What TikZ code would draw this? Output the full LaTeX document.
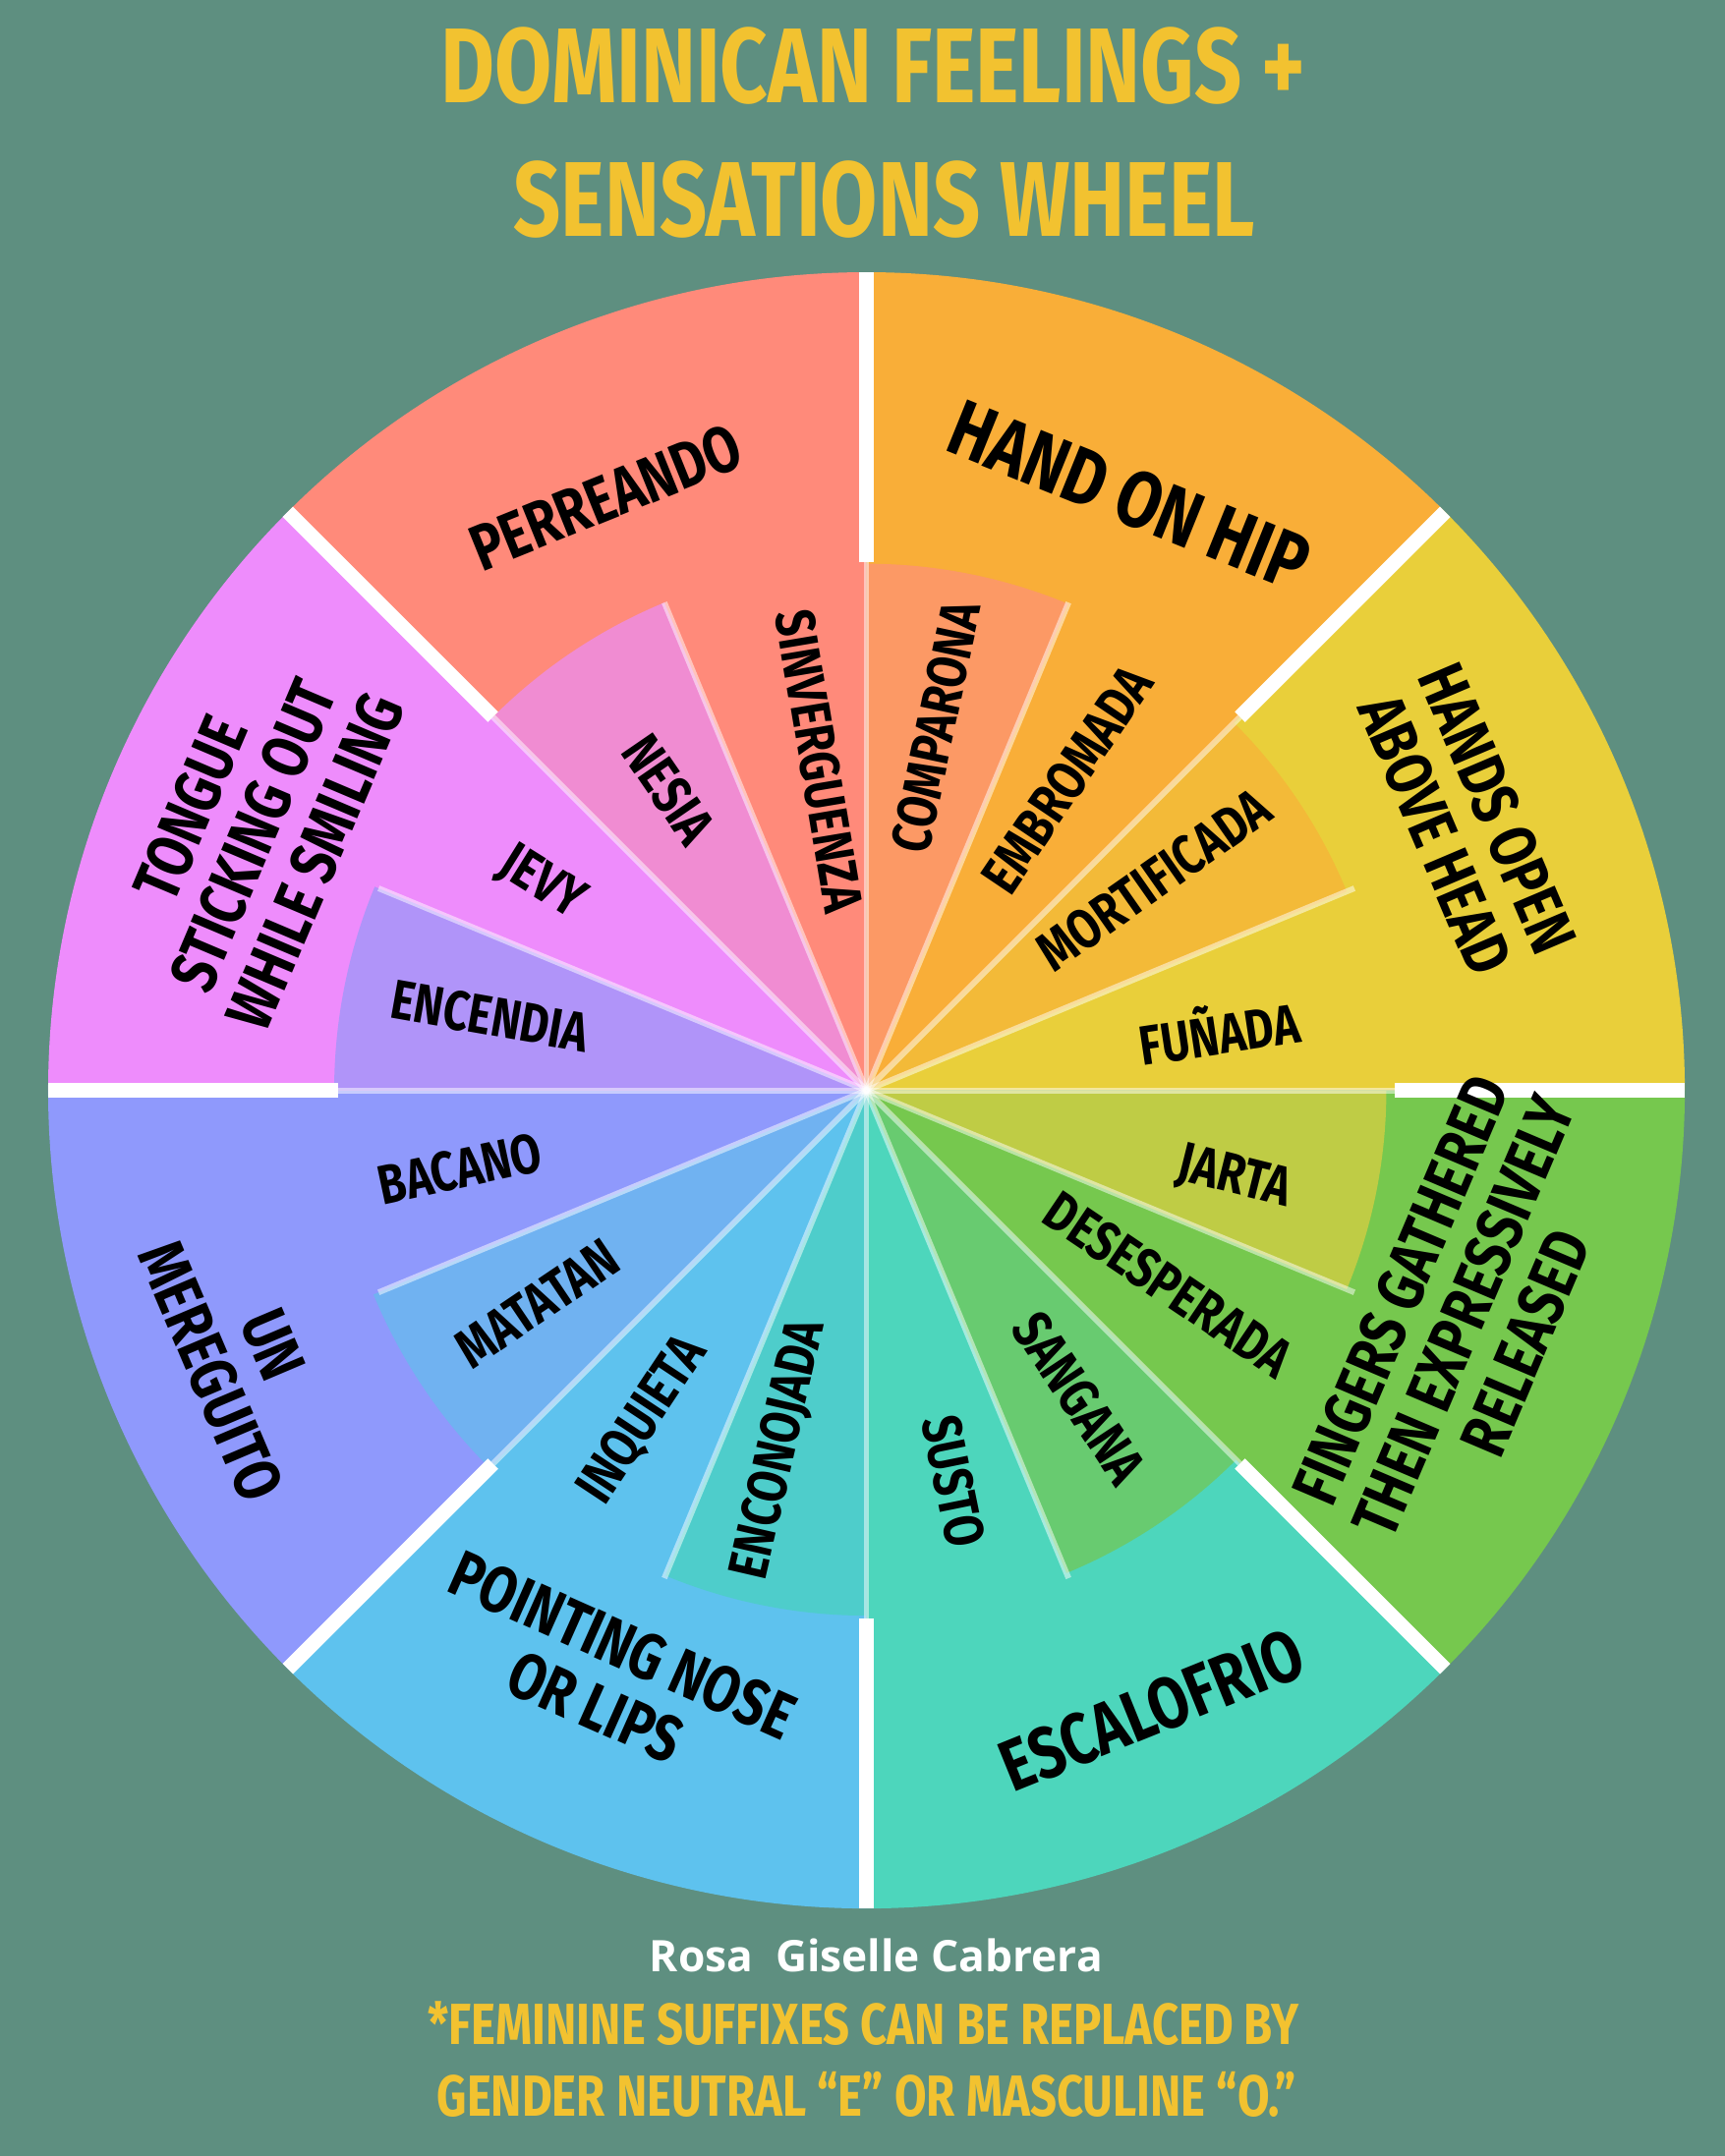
\documentclass[tikz,border=0pt]{standalone}
\usepackage{fontspec}
\setmainfont{Fira Sans}[UprightFont=* Bold]
\newfontfamily\authfont{Open Sans}[UprightFont=* Bold]
\definecolor{bgc}{HTML}{5E8F80}
\definecolor{titc}{HTML}{F2C230}
\definecolor{salmon}{HTML}{FF8A7A}
\definecolor{nesiac}{HTML}{F08CD2}
\definecolor{orangec}{HTML}{F9AE38}
\definecolor{comparc}{HTML}{FC9965}
\definecolor{yellowc}{HTML}{E9CF3A}
\definecolor{mortic}{HTML}{F3BA38}
\definecolor{greenc}{HTML}{76C84E}
\definecolor{jartac}{HTML}{BFCC45}
\definecolor{tealc}{HTML}{4DD6BC}
\definecolor{sanganac}{HTML}{68CB70}
\definecolor{bluec}{HTML}{5EC2EE}
\definecolor{enconc}{HTML}{4ECDCB}
\definecolor{peric}{HTML}{8F99FC}
\definecolor{matatc}{HTML}{70B2F1}
\definecolor{pinkc}{HTML}{EE8CFC}
\definecolor{encenc}{HTML}{B094F9}
\newcommand\cnd[2][.8]{\scalebox{#1}[1]{\begin{tabular}{@{}c@{}}#2\end{tabular}}}
\begin{document}
\begin{tikzpicture}[
  outlab/.style={font=\fontsize{13.5}{14}\selectfont, inner sep=0pt},
  inlab/.style={font=\fontsize{11.5}{12}\selectfont, inner sep=0pt},
  titlab/.style={text=titc, font=\fontsize{22}{24}\selectfont, inner sep=0pt},
  noteb/.style={text=titc, font=\fontsize{12}{13}\selectfont, inner sep=0pt}]
 \fill[bgc] (0,0) rectangle (12.54,15.68);
 \useasboundingbox (0,0) rectangle (12.54,15.68);
 % title
 \node[titlab] (tit1) at (6.35,15.10) {\cnd[.78]{DOMINICAN FEELINGS +}};
 \node[titlab] (tit2) at (6.43,14.13) {\cnd[.78]{SENSATIONS WHEEL}};
 \begin{scope}[shift={(6.3,7.75)}]
 % outer sectors
 \foreach \a/\c in {90/salmon,45/orangec,0/yellowc,-45/greenc,-90/tealc,-135/bluec,180/peric,135/pinkc}
   \fill[\c] (0,0) -- (\a:5.95) arc[start angle=\a, delta angle=45, radius=5.95] -- cycle;
 % inner wedges
 \foreach \a/\c/\r in {112.5/nesiac/3.84,67.5/comparc/3.83,22.5/mortic/3.78,-22.5/jartac/3.78,
                       -67.5/sanganac/3.80,-112.5/enconc/3.82,-157.5/matatc/3.88,157.5/encenc/3.87}
   \fill[\c] (0,0) -- (\a:\r) arc[start angle=\a, delta angle=22.5, radius=\r] -- cycle;
 % thin lines
 \foreach \a in {0,22.5,...,337.5}
   \draw[white, opacity=.5, line width=1.2pt] (0,0) -- (\a:3.84);
 % thick separators
 \foreach \a in {0,45,...,315}
   \draw[white, line width=3pt] (\a:3.84) -- (\a:5.95);
 % outer labels
 \node[outlab, rotate=22] (perre) at (-1.87,4.25) {\cnd{PERREANDO}};
 \node[outlab, font=\fontsize{16.5}{17}\selectfont, rotate=-22] (hand) at (1.88,4.25) {\cnd{HAND ON HIP}};
 \node[outlab, rotate=-67] (hopen) at (4.30,1.93) {\cnd{HANDS OPEN\\ABOVE HEAD}};
 \node[outlab, rotate=67] (fing) at (4.40,-1.67) {\cnd{FINGERS GATHERED\\THEN EXPRESSIVELY\\RELEASED}};
 \node[outlab, font=\fontsize{15}{16}\selectfont, rotate=22] (esca) at (2.10,-4.57) {\cnd{ESCALOFRIO}};
 \node[outlab, rotate=-24] (point) at (-1.90,-4.32) {\cnd{POINTING NOSE\\OR LIPS}};
 \node[outlab, rotate=-67] (mere) at (-4.60,-1.97) {\cnd{UN\\MEREGUITO}};
 \node[outlab, rotate=67] (tong) at (-4.40,1.83) {\cnd{TONGUE\\STICKING OUT\\WHILE SMILING}};
 % inner labels
 \foreach \n/\a/\r/\t in {sinv/99.5/2.42/SINVERGUENZA, nesia/124.5/2.62/NESIA,
     compa/78/2.69/COMPARONA, embro/56/2.69/EMBROMADA, morti/35/2.59/MORTIFICADA,
     funa/8.5/2.60/FUÑADA, jarta/-14/2.75/JARTA, desesp/-34/2.61/DESESPERADA,
     sangana/-56.5/2.72/SANGANA, susto/-78.5/2.91/SUSTO, encono/-103/2.69/ENCONOJADA,
     inqui/-123.5/2.90/INQUIETA, matat/-146/2.85/MATATAN, bacano/-168/3.01/BACANO,
     encen/170/2.79/ENCENDIA, jevy/148/2.80/JEVY}
 {
   \pgfmathsetmacro\rot{ifthenelse(\a>90, \a-180, ifthenelse(\a<-90, \a+180, \a))}
   \node[inlab, rotate=\rot] (\n) at (\a:\r) {\cnd{\t}};
 }
 \end{scope}
 % footer
 \node[text=white, font=\authfont\fontsize{9}{11}\selectfont, inner sep=0pt] (auth) at (6.37,1.46) {Rosa\ \ Giselle Cabrera};
 \node[noteb] (note1) at (6.28,0.90) {\cnd[.8]{*FEMININE SUFFIXES CAN BE REPLACED BY}};
 \node[noteb] (note2) at (6.30,0.38) {\cnd[.8]{GENDER NEUTRAL ``E'' OR MASCULINE ``O.''}};
\end{tikzpicture}
\end{document}
